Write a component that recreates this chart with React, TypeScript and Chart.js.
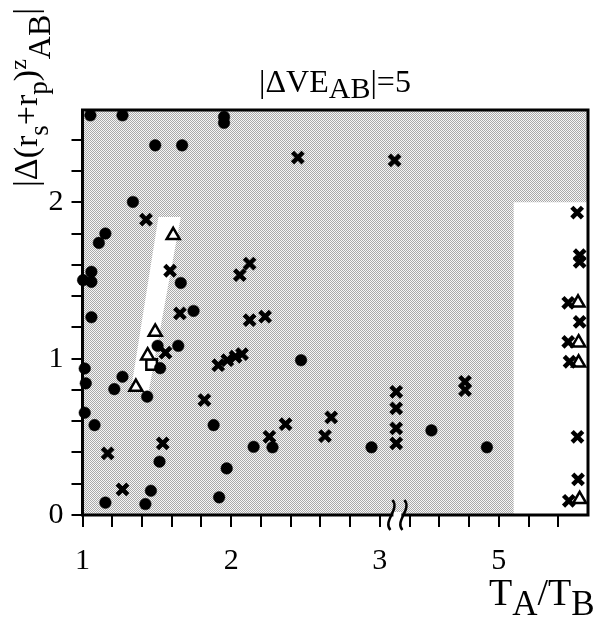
import React, { useEffect, useRef } from 'react';
import { Chart, registerables } from 'chart.js';

Chart.register(...registerables);

const FONT = '"Liberation Serif", "Times New Roman", serif';

// x values are positions on the broken T_A/T_B axis (the tick labelled "5" sits at 3.8)
const xTickValues = [1.0, 1.2, 1.4, 1.6, 1.8, 2.0, 2.2, 2.4, 2.6, 2.8, 3.0, 3.2, 3.4, 3.6, 3.8, 4.0, 4.2];
const xTickLabelPos = [1, 2, 3, 3.8];
const xTickLabels = ['1', '2', '3', '5'];
const yTickValues = [0, 0.2, 0.4, 0.6, 0.8, 1.0, 1.2, 1.4, 1.6, 1.8, 2.0, 2.2, 2.4];
const yTickLabelPos = [0, 1, 2];
const yTickLabels = ['0', '1', '2'];

const circleX = [1.053, 1.269, 1.952, 1.952, 1.489, 1.670, 1.339, 1.154, 1.110, 1.060, 1.004, 1.060, 1.661, 1.060, 1.747, 1.505, 1.644, 1.522, 1.015, 1.022, 1.269, 1.214, 1.435, 1.015, 1.081, 1.882, 2.151, 1.518, 1.970, 1.460, 1.154, 1.423, 1.919, 2.470, 2.278, 2.944, 3.347, 3.720];
const circleY = [2.556, 2.556, 2.546, 2.508, 2.364, 2.364, 2.002, 1.800, 1.740, 1.555, 1.502, 1.491, 1.484, 1.265, 1.305, 1.082, 1.082, 0.939, 0.937, 0.842, 0.884, 0.805, 0.757, 0.654, 0.575, 0.575, 0.436, 0.341, 0.298, 0.155, 0.079, 0.070, 0.113, 0.990, 0.433, 0.433, 0.541, 0.433];

const crossX = [1.427, 1.589, 2.058, 2.124, 1.655, 2.124, 2.228, 1.558, 1.913, 1.974, 2.029, 2.073, 1.820, 1.169, 1.540, 1.269, 2.448, 3.099, 2.366, 2.257, 2.673, 2.631, 3.110, 3.110, 3.110, 3.110, 3.573, 3.573, 4.327, 4.344, 4.344, 4.267, 4.344, 4.267, 4.276, 4.329, 4.333, 4.271];
const crossY = [1.889, 1.562, 1.534, 1.608, 1.289, 1.246, 1.268, 1.038, 0.958, 0.990, 1.012, 1.029, 0.735, 0.394, 0.458, 0.164, 2.286, 2.268, 0.581, 0.500, 0.624, 0.505, 0.788, 0.682, 0.554, 0.458, 0.852, 0.799, 1.934, 1.661, 1.619, 1.357, 1.235, 1.107, 0.980, 0.500, 0.228, 0.091];

const triangleX = [1.610, 1.489, 1.438, 1.359, 4.333, 4.337, 4.337, 4.344];
const triangleY = [1.789, 1.171, 1.019, 0.818, 1.357, 1.102, 0.973, 0.100];

const squareX = [1.465];
const squareY = [0.962];

// unshaded regions
const bandX = [1.511, 1.661, 1.445, 1.324];
const bandY = [1.906, 1.906, 0.788, 0.788];
const whiteBoxX = [3.9, 4.4];
const whiteBoxY = [0, 2.0];
const axisBreakAt = 3.118;

type Part = { t: string; size: number; dy: number };

function drawRich(ctx: CanvasRenderingContext2D, parts: Part[], x: number, y: number) {
  let cx = x;
  for (const p of parts) {
    ctx.font = `${p.size}px ${FONT}`;
    ctx.fillText(p.t, cx, y + p.dy);
    cx += ctx.measureText(p.t).width;
  }
}
function richWidth(ctx: CanvasRenderingContext2D, parts: Part[]) {
  let w = 0;
  for (const p of parts) {
    ctx.font = `${p.size}px ${FONT}`;
    w += ctx.measureText(p.t).width;
  }
  return w;
}

function makePattern(ctx: CanvasRenderingContext2D) {
  const c = document.createElement('canvas');
  c.width = 2;
  c.height = 2;
  const g = c.getContext('2d')!;
  g.fillStyle = '#f6f6f6';
  g.fillRect(0, 0, 2, 2);
  g.fillStyle = '#a9a9a9';
  g.fillRect(0, 0, 1, 1);
  g.fillRect(1, 1, 1, 1);
  return ctx.createPattern(c, 'repeat');
}

const shadePlugin = {
  id: 'shade',
  beforeDatasetsDraw(chart: any) {
    const { ctx, chartArea: a, scales } = chart;
    const xs = scales.x;
    const ys = scales.y;
    ctx.save();
    ctx.fillStyle = makePattern(ctx);
    ctx.fillRect(a.left, a.top, a.right - a.left, a.bottom - a.top);
    ctx.fillStyle = '#ffffff';
    ctx.beginPath();
    bandX.forEach((v, i) => {
      const px = xs.getPixelForValue(v);
      const py = ys.getPixelForValue(bandY[i]);
      if (i === 0) ctx.moveTo(px, py);
      else ctx.lineTo(px, py);
    });
    ctx.closePath();
    ctx.fill();
    const bx0 = xs.getPixelForValue(whiteBoxX[0]);
    const bx1 = xs.getPixelForValue(whiteBoxX[1]);
    const by0 = ys.getPixelForValue(whiteBoxY[0]);
    const by1 = ys.getPixelForValue(whiteBoxY[1]);
    ctx.fillRect(bx0, by1, bx1 - bx0, by0 - by1);
    ctx.strokeStyle = '#000';
    ctx.lineWidth = 3;
    ctx.strokeRect(a.left, a.top, a.right - a.left, a.bottom - a.top);
    ctx.restore();
  },
};

const textPlugin = {
  id: 'texts',
  afterDraw(chart: any) {
    const { ctx, chartArea: a, scales } = chart;
    ctx.save();
    ctx.fillStyle = '#000';
    ctx.textBaseline = 'alphabetic';
    ctx.textAlign = 'left';

    // title
    const title: Part[] = [
      { t: '|\u0394VE', size: 32, dy: 0 },
      { t: 'AB', size: 30, dy: 6 },
      { t: '|=5', size: 32, dy: 0 },
    ];
    const tw = richWidth(ctx, title);
    drawRich(ctx, title, 335 - tw / 2, 92);

    // y axis title (rotated)
    const ytitle: Part[] = [
      { t: '|\u0394(r', size: 34, dy: 0 },
      { t: 's', size: 27, dy: 11 },
      { t: '+r', size: 34, dy: 0 },
      { t: 'p', size: 27, dy: 10 },
      { t: ')', size: 34, dy: 0 },
      { t: 'z', size: 24, dy: -11 },
      { t: 'AB', size: 32, dy: 13 },
      { t: '|', size: 34, dy: 0 },
    ];
    ctx.save();
    ctx.translate(37, 187);
    ctx.rotate(-Math.PI / 2);
    drawRich(ctx, ytitle, 0, 0);
    ctx.restore();

    // x axis title
    const xtitle: Part[] = [
      { t: 'T', size: 38, dy: 0 },
      { t: 'A', size: 35, dy: 10 },
      { t: '/T', size: 38, dy: 0 },
      { t: 'B', size: 35, dy: 10 },
    ];
    drawRich(ctx, xtitle, 489, 605);

    // axis break
    const bx = scales.x.getPixelForValue(axisBreakAt);
    const by = a.bottom;
    ctx.fillStyle = '#fff';
    ctx.fillRect(bx - 4, by - 3, 8, 6);
    ctx.strokeStyle = '#000';
    ctx.lineWidth = 2.5;
    for (const off of [-6, 6]) {
      const x0 = bx + off;
      ctx.beginPath();
      ctx.moveTo(x0 + 1, by - 15);
      ctx.bezierCurveTo(x0 + 9, by - 6, x0 - 9, by + 6, x0 - 1, by + 15);
      ctx.stroke();
    }
    ctx.restore();
  },
};

function nearLabel(v: number, pos: number[], labels: string[]) {
  for (let i = 0; i < pos.length; i++) {
    if (Math.abs(v - pos[i]) < 1e-6) return labels[i];
  }
  return '';
}

export default function App() {
  const ref = useRef<HTMLCanvasElement | null>(null);
  useEffect(() => {
    if (!ref.current) return;
    const toPts = (xs: number[], ys: number[]) => xs.map((x, i) => ({ x, y: ys[i] }));
    const chart = new Chart(ref.current, {
      type: 'scatter',
      data: {
        datasets: [
          {
            data: toPts(circleX, circleY),
            pointStyle: 'circle',
            pointRadius: 5.8,
            pointBackgroundColor: '#000',
            pointBorderColor: '#000',
            pointBorderWidth: 0.5,
            clip: false,
          } as any,
          {
            data: toPts(crossX, crossY),
            pointStyle: 'crossRot',
            pointRadius: 7.5,
            pointBorderColor: '#000',
            pointBorderWidth: 4.5,
            clip: false,
          },
          {
            data: toPts(triangleX, triangleY),
            pointStyle: 'triangle',
            pointRadius: 7.5,
            pointBackgroundColor: '#fff',
            pointBorderColor: '#000',
            pointBorderWidth: 2.5,
            clip: false,
          },
          {
            data: toPts(squareX, squareY),
            pointStyle: 'rect',
            pointRadius: 7.5,
            pointBackgroundColor: '#fff',
            pointBorderColor: '#000',
            pointBorderWidth: 2.5,
            clip: false,
          },
        ],
      },
      options: {
        animation: false,
        responsive: false,
        devicePixelRatio: 1,
        events: [],
        layout: { padding: { top: 110, right: 3.5, left: 0, bottom: 0 } },
        plugins: { legend: { display: false }, tooltip: { enabled: false }, title: { display: false } },
        scales: {
          x: {
            type: 'linear',
            position: 'bottom',
            min: 1,
            max: 4.4,
            border: { display: false },
            grid: { drawOnChartArea: false, drawTicks: true, tickLength: 12, color: '#000', lineWidth: 2 },
            ticks: {
              autoSkip: false,
              maxRotation: 0,
              color: '#000',
              padding: 16,
              font: { family: FONT, size: 30 },
              callback: (v: any) => nearLabel(Number(v), xTickLabelPos, xTickLabels),
            },
            afterBuildTicks: (s: any) => {
              s.ticks = xTickValues.map((value) => ({ value }));
            },
            afterFit: (s: any) => {
              s.height = 104;
            },
          },
          y: {
            type: 'linear',
            min: 0,
            max: 2.59,
            border: { display: false },
            grid: { drawOnChartArea: false, drawTicks: true, tickLength: 11, color: '#000', lineWidth: 2 },
            ticks: {
              autoSkip: false,
              color: '#000',
              padding: 8,
              font: { family: FONT, size: 30 },
              callback: (v: any) => nearLabel(Number(v), yTickLabelPos, yTickLabels),
            },
            afterBuildTicks: (s: any) => {
              s.ticks = yTickValues.map((value) => ({ value }));
            },
            afterFit: (s: any) => {
              s.width = 82.5;
            },
          },
        },
      },
      plugins: [shadePlugin, textPlugin],
    });
    return () => chart.destroy();
  }, []);
  return (
    <div style={{ position: 'absolute', left: 0, top: 0, width: 600, height: 619, background: '#fff' }}>
      <canvas ref={ref} width={600} height={619} style={{ display: 'block' }} />
    </div>
  );
}
